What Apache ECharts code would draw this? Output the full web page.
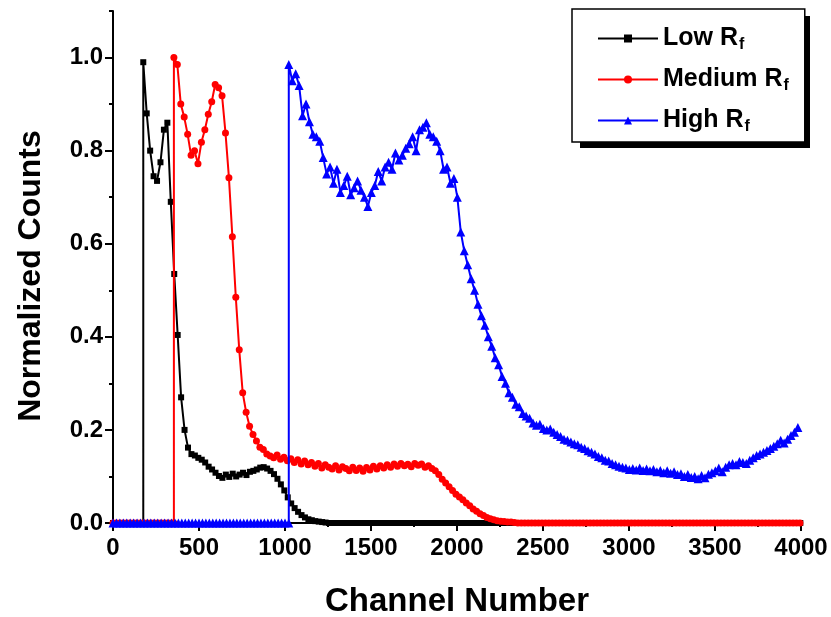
<!DOCTYPE html>
<html>
<head>
<meta charset="utf-8">
<script src="https://cdn.jsdelivr.net/npm/echarts@6/dist/echarts.min.js"></script>
<style>
  html, body { margin: 0; padding: 0; background: #ffffff; }
  #chart { width: 831px; height: 617px; }
</style>
</head>
<body>
<div id="chart"></div>
<script>
// Pulse-height spectra: normalized counts per channel for three feedback resistances.
const CHANNEL_STEP = 20;

const xTicks = [0, 500, 1000, 1500, 2000, 2500, 3000, 3500, 4000];
const yTicks = [0, 0.2, 0.4, 0.6, 0.8, 1.0];
const yMinorTicks = [0.1, 0.3, 0.5, 0.7, 0.9, 1.1];

const seriesNames = ['Low', 'Medium', 'High'];

// Low Rf: empty channels below the threshold, then counts from channel 176
const lowLead = [0, 0, 0, 0, 0, 0, 0, 0, 0];
const lowStart = 176;
const lowCounts = [
  0.99, 0.88, 0.80, 0.745, 0.735, 0.775, 0.845, 0.86, 0.69, 0.535,
  0.404, 0.27, 0.20, 0.162, 0.148, 0.145, 0.14, 0.136, 0.13, 0.121,
  0.115, 0.108, 0.101, 0.097, 0.104, 0.099, 0.106, 0.1, 0.104, 0.108,
  0.103, 0.11, 0.112, 0.115, 0.119, 0.12, 0.117, 0.112, 0.105, 0.095,
  0.083, 0.07, 0.055, 0.042, 0.032, 0.024, 0.017, 0.012, 0.008, 0.006,
  0.004, 0.003, 0.002, 0.001,
  0, 0, 0, 0, 0, 0, 0, 0, 0, 0, 0, 0, 0, 0, 0, 0, 0, 0, 0, 0,
  0, 0, 0, 0, 0, 0, 0, 0, 0, 0, 0, 0, 0, 0, 0, 0, 0, 0, 0, 0,
  0, 0, 0, 0, 0, 0, 0, 0, 0, 0, 0, 0, 0, 0, 0, 0, 0, 0, 0, 0,
  0, 0, 0, 0, 0, 0, 0, 0, 0, 0, 0, 0, 0, 0, 0, 0, 0, 0, 0, 0,
  0, 0, 0, 0, 0, 0, 0, 0, 0, 0, 0, 0, 0, 0, 0, 0, 0, 0, 0, 0,
  0, 0, 0, 0, 0, 0, 0, 0, 0, 0, 0, 0, 0, 0, 0, 0, 0, 0, 0, 0,
  0, 0, 0, 0, 0, 0, 0, 0, 0, 0, 0, 0, 0, 0, 0, 0, 0, 0
];

// Medium Rf: counts from channel 354
const mediumLead = [0, 0, 0, 0, 0, 0, 0, 0, 0, 0, 0, 0, 0, 0, 0, 0, 0, 0];
const mediumStart = 354;
const mediumCounts = [
  1.0, 0.985, 0.9, 0.872, 0.835, 0.79, 0.80, 0.772, 0.818, 0.845,
  0.878, 0.905, 0.942, 0.935, 0.918, 0.838, 0.742, 0.615, 0.485, 0.372,
  0.28, 0.238, 0.208, 0.19, 0.176, 0.163, 0.158, 0.148, 0.144, 0.14,
  0.146, 0.137, 0.141, 0.134, 0.138, 0.13, 0.136, 0.127, 0.133, 0.125,
  0.13, 0.122, 0.128, 0.118, 0.125, 0.12, 0.116, 0.123, 0.114, 0.121,
  0.117, 0.112, 0.12, 0.113, 0.118, 0.111, 0.119, 0.114, 0.122, 0.116,
  0.123, 0.118, 0.125, 0.12, 0.127, 0.122, 0.128, 0.123, 0.126, 0.121,
  0.128, 0.124, 0.127, 0.12, 0.123, 0.117, 0.112, 0.104, 0.094, 0.086,
  0.078, 0.07, 0.062, 0.056, 0.05, 0.043, 0.037, 0.03, 0.025, 0.02,
  0.016, 0.012, 0.009, 0.007, 0.005, 0.004, 0.003, 0.002, 0.002, 0.001,
  0, 0, 0, 0, 0, 0, 0, 0, 0, 0, 0, 0, 0, 0, 0, 0, 0, 0, 0, 0,
  0, 0, 0, 0, 0, 0, 0, 0, 0, 0, 0, 0, 0, 0, 0, 0, 0, 0, 0, 0,
  0, 0, 0, 0, 0, 0, 0, 0, 0, 0, 0, 0, 0, 0, 0, 0, 0, 0, 0, 0,
  0, 0, 0, 0, 0, 0, 0, 0, 0, 0, 0, 0, 0, 0, 0, 0, 0, 0, 0, 0,
  0, 0, 0
];

// High Rf: counts from channel 1022
const highLead = [
  0, 0, 0, 0, 0, 0, 0, 0, 0, 0, 0, 0, 0, 0, 0, 0, 0, 0, 0, 0,
  0, 0, 0, 0, 0, 0, 0, 0, 0, 0, 0, 0, 0, 0, 0, 0, 0, 0, 0, 0,
  0, 0, 0, 0, 0, 0, 0, 0, 0, 0, 0
];
const highStart = 1022;
const highCounts = [
  0.985, 0.95, 0.965, 0.94, 0.875, 0.9, 0.862, 0.835, 0.83, 0.82,
  0.785, 0.75, 0.765, 0.73, 0.76, 0.71, 0.725, 0.745, 0.705, 0.72,
  0.735, 0.715, 0.70, 0.68, 0.71, 0.725, 0.755, 0.735, 0.765, 0.775,
  0.76, 0.795, 0.78, 0.79, 0.805, 0.815, 0.83, 0.80, 0.845, 0.85,
  0.86, 0.835, 0.83, 0.82, 0.80, 0.76, 0.765, 0.73, 0.74, 0.70,
  0.625, 0.585, 0.555, 0.525, 0.50, 0.47, 0.445, 0.425, 0.40, 0.38,
  0.355, 0.34, 0.315, 0.30, 0.28, 0.27, 0.255, 0.25, 0.235, 0.23,
  0.225, 0.215, 0.21, 0.212, 0.203, 0.2, 0.202, 0.195, 0.19, 0.186,
  0.18, 0.178, 0.174, 0.17, 0.168, 0.163, 0.16, 0.155, 0.152, 0.148,
  0.143, 0.14, 0.135, 0.133, 0.128, 0.125, 0.122, 0.12, 0.118, 0.115,
  0.117, 0.114, 0.118, 0.113, 0.116, 0.112, 0.115, 0.11, 0.113, 0.108,
  0.112, 0.107, 0.11, 0.104, 0.106, 0.1, 0.104, 0.098, 0.1, 0.095,
  0.102, 0.097, 0.105, 0.108, 0.112, 0.118, 0.11, 0.12, 0.125, 0.128,
  0.125, 0.132, 0.13, 0.128, 0.135, 0.14, 0.145, 0.148, 0.152, 0.156,
  0.16, 0.165, 0.17, 0.178, 0.172, 0.18, 0.188, 0.195, 0.205
];

// Join the empty lead-in channels, the foot of the threshold edge and the counted channels.
function buildPoints(lead, start, counts) {
  const pts = lead.map((v, i) => [i * CHANNEL_STEP, v]);
  pts.push([start, 0]);
  counts.forEach((v, i) => pts.push([start + i * CHANNEL_STEP, v]));
  return pts;
}

const FONT = '"Liberation Sans", Arial, sans-serif';

function lineSeries(name, points, color, symbol, size, z) {
  return {
    name: name,
    type: 'line',
    data: points,
    symbol: symbol,
    symbolSize: size,
    showAllSymbol: true,
    lineStyle: { color: color, width: 2 },
    itemStyle: { color: color },
    z: z
  };
}

const chart = echarts.init(document.getElementById('chart'), null, { renderer: 'canvas' });

chart.setOption({
  animation: false,
  backgroundColor: '#ffffff',
  grid: { left: 113, right: 30, top: 11, bottom: 94, outerBoundsMode: 'none' },
  // solid drop shadow behind the legend box
  graphic: [{
    type: 'rect',
    left: 580,
    top: 16,
    shape: { width: 230, height: 132 },
    style: { fill: '#000000' },
    z: 0
  }],
  legend: {
    orient: 'vertical',
    left: 572,
    top: 9,
    padding: [15, 16, 7, 25],
    itemGap: 12,
    itemWidth: 60,
    itemHeight: 10,
    backgroundColor: '#ffffff',
    borderColor: '#000000',
    borderWidth: 1.5,
    borderRadius: 0,
    z: 10,
    data: seriesNames,
    formatter: (n) => n + ' R{sub|f}',
    textStyle: {
      fontFamily: FONT,
      fontWeight: 'bold',
      fontSize: 25,
      color: '#000000',
      lineHeight: 29,
      rich: {
        sub: {
          fontFamily: FONT,
          fontWeight: 'bold',
          fontSize: 16,
          color: '#000000',
          verticalAlign: 'bottom',
          lineHeight: 16,
          padding: [9, 0, 0, 1]
        }
      }
    }
  },
  xAxis: {
    type: 'value',
    min: xTicks[0],
    max: xTicks[xTicks.length - 1],
    interval: 500,
    name: 'Channel Number',
    nameLocation: 'middle',
    nameGap: 62,
    nameTextStyle: { fontFamily: FONT, fontWeight: 'bold', fontSize: 33, color: '#000000' },
    axisLine: { show: true, onZero: false, lineStyle: { color: '#000000', width: 2 } },
    axisTick: { show: true, inside: false, length: 8, lineStyle: { color: '#000000', width: 2 } },
    minorTick: { show: true, splitNumber: 2, length: 4, lineStyle: { color: '#000000', width: 2 } },
    axisLabel: {
      margin: 13,
      fontFamily: FONT, fontWeight: 'bold', fontSize: 24, color: '#000000',
      customValues: xTicks,
      formatter: (v) => String(v)
    },
    splitLine: { show: false },
    minorSplitLine: { show: false }
  },
  yAxis: [
    {
      type: 'value',
      min: 0,
      max: 1.1,
      name: 'Normalized Counts',
      nameLocation: 'middle',
      nameGap: 66,
      nameTextStyle: {
        fontFamily: FONT, fontWeight: 'bold', fontSize: 32, color: '#000000',
        padding: [0, 18, 0, 0]
      },
      axisLine: { show: true, onZero: false, lineStyle: { color: '#000000', width: 2 } },
      axisTick: { show: true, inside: false, length: 8, customValues: yTicks, lineStyle: { color: '#000000', width: 2 } },
      axisLabel: {
        margin: 10,
        fontFamily: FONT, fontWeight: 'bold', fontSize: 24, color: '#000000',
        customValues: yTicks,
        formatter: (v) => v.toFixed(1)
      },
      splitLine: { show: false }
    },
    {
      type: 'value',
      min: 0,
      max: 1.1,
      position: 'left',
      axisLine: { show: false },
      axisTick: { show: true, inside: false, length: 4, customValues: yMinorTicks, lineStyle: { color: '#000000', width: 2 } },
      axisLabel: { show: false },
      splitLine: { show: false }
    }
  ],
  series: [
    lineSeries(seriesNames[0], buildPoints(lowLead, lowStart, lowCounts), '#000000', 'rect', 6, 2),
    lineSeries(seriesNames[1], buildPoints(mediumLead, mediumStart, mediumCounts), '#ff0000', 'circle', 7, 3),
    lineSeries(seriesNames[2], buildPoints(highLead, highStart, highCounts), '#0000ff', 'triangle', 9, 4)
  ]
});
</script>
</body>
</html>
